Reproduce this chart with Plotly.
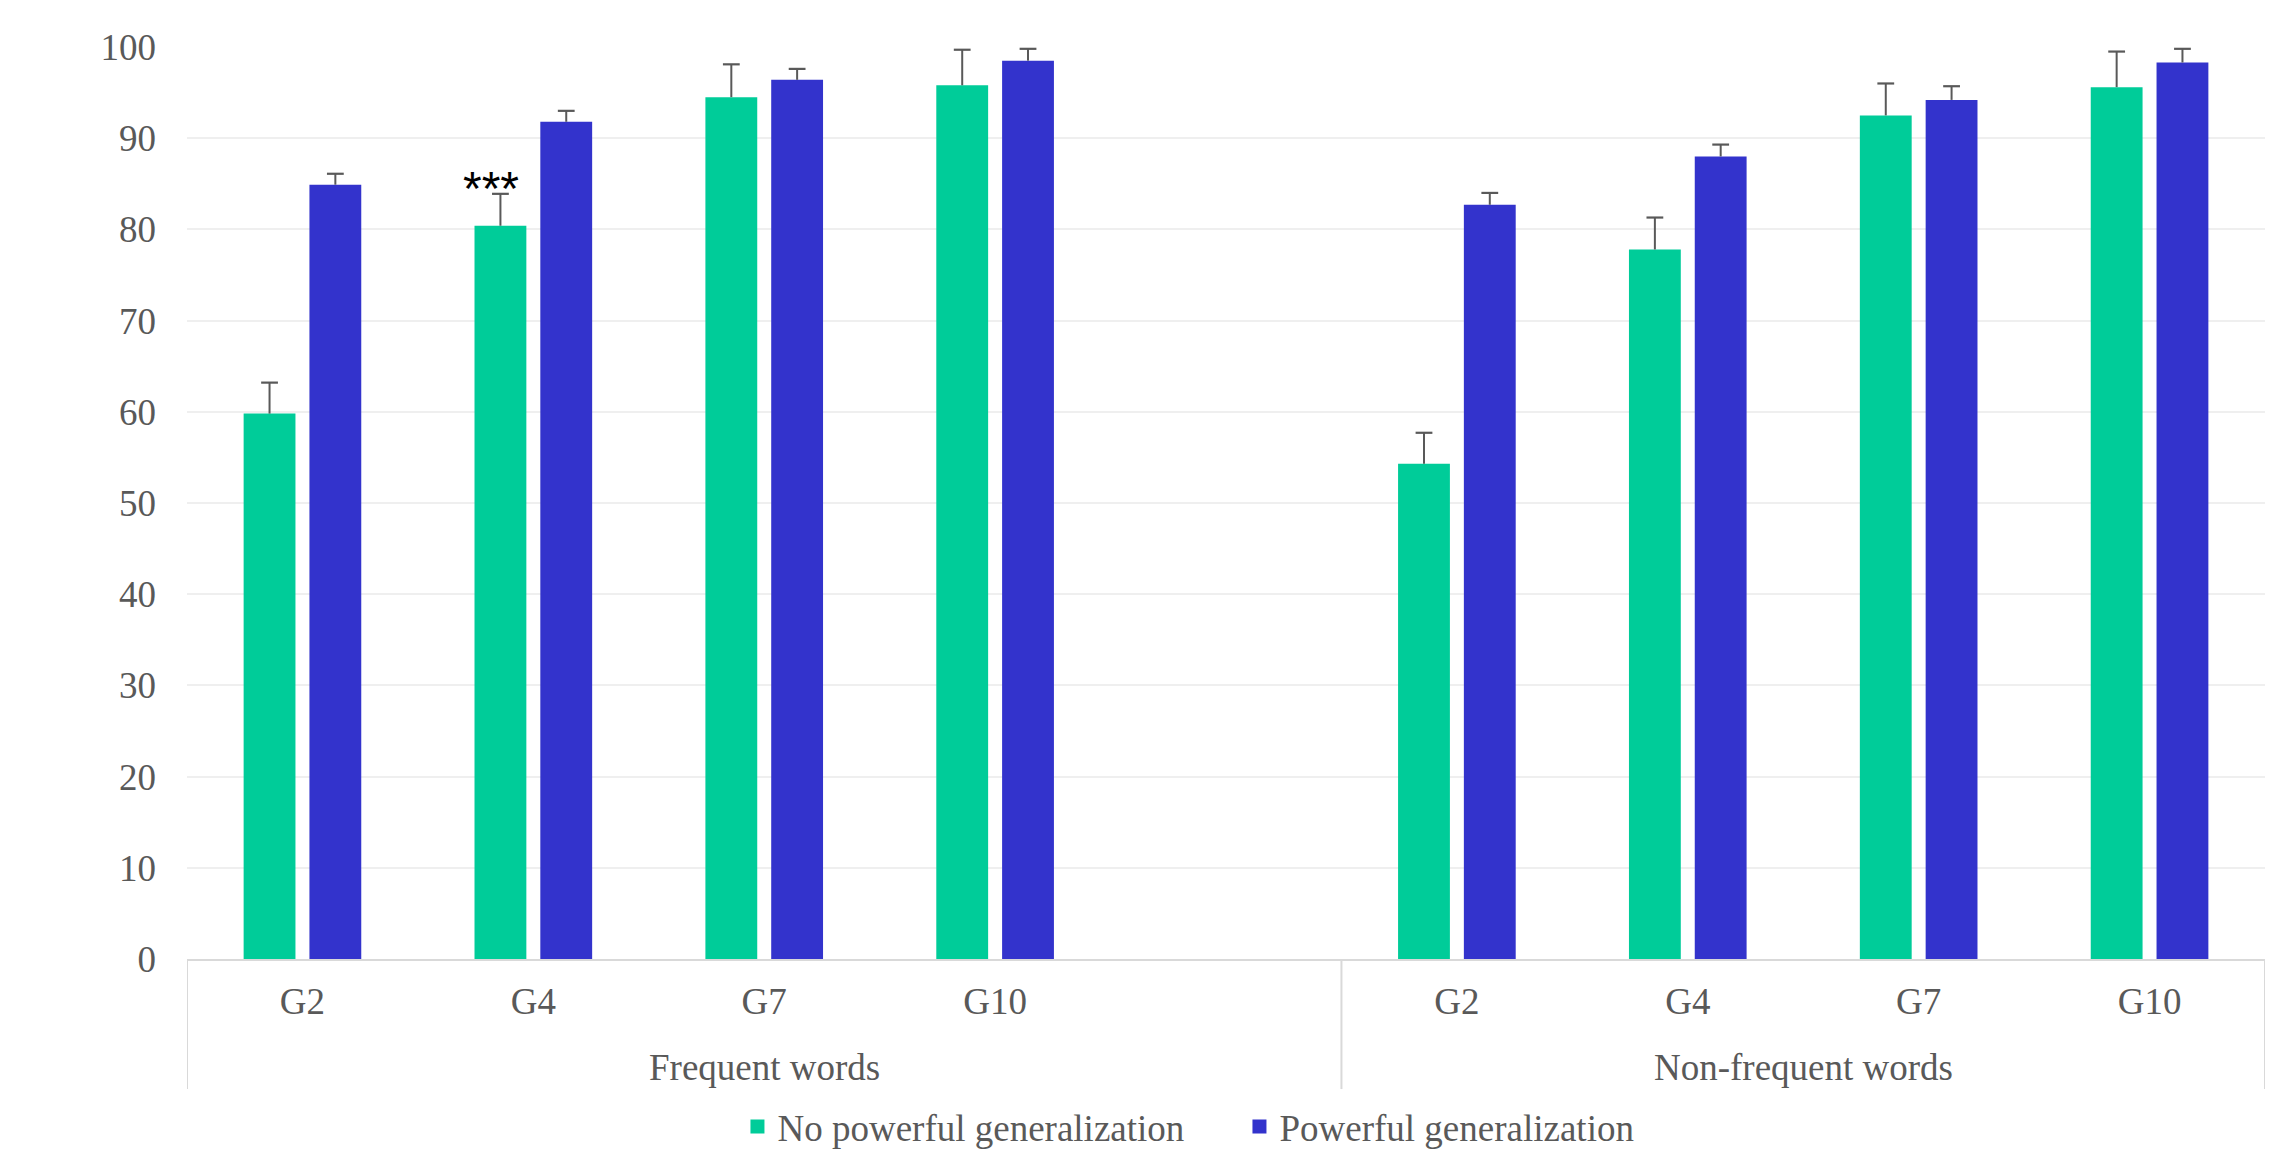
import plotly.graph_objects as go

# ---------------- data ----------------
groups = ["Frequent words", "Non-frequent words"]
grades = ["G2", "G4", "G7", "G10"]
series_names = ["No powerful generalization", "Powerful generalization"]

freq_no = [59.8, 80.4, 94.5, 95.8]
freq_no_err_top = [63.2, 83.9, 98.1, 99.7]
freq_pow = [84.9, 91.8, 96.4, 98.5]
freq_pow_err_top = [86.1, 93.0, 97.6, 99.8]

nonfreq_no = [54.3, 77.8, 92.5, 95.6]
nonfreq_no_err_top = [57.7, 81.3, 96.0, 99.5]
nonfreq_pow = [82.7, 88.0, 94.2, 98.3]
nonfreq_pow_err_top = [84.0, 89.3, 95.7, 99.8]

y_ticks = [0, 10, 20, 30, 40, 50, 60, 70, 80, 90, 100]
significance_label = "***"

# ---------------- layout constants ----------------
GREEN = "#00CC99"
BLUE = "#3333CC"
TXT = "#595959"
FONT = "Liberation Serif"
BAR_W = 0.2245
PAIR_OFF = 0.1425
CAP_PX = 12

# category slots: frequent group has 5 slots (last one empty), non-frequent 4
freq_pos = [i for i in range(len(grades))]
nonfreq_pos = [len(grades) + 1 + i for i in range(len(grades))]
positions = freq_pos + nonfreq_pos
n_slots = len(grades) * 2 + 1

no_vals = freq_no + nonfreq_no
no_err = freq_no_err_top + nonfreq_no_err_top
pow_vals = freq_pow + nonfreq_pow
pow_err = freq_pow_err_top + nonfreq_pow_err_top

fig = go.Figure()

for name, vals, errs, color, sign in [
    (series_names[0], no_vals, no_err, GREEN, -1),
    (series_names[1], pow_vals, pow_err, BLUE, 1),
]:
    xs = [p + sign * PAIR_OFF for p in positions]
    fig.add_trace(go.Bar(
        x=xs, y=vals, width=BAR_W, name=name, legendgroup=name,
        showlegend=False,
        marker=dict(color=color, line=dict(width=0)),
        hoverinfo="skip",
    ))
    # legend entry (larger square swatch like the original)
    fig.add_trace(go.Bar(
        x=[None], y=[None], name=name, legendgroup=name, showlegend=True,
        marker=dict(color=color, line=dict(width=5, color=color)),
        hoverinfo="skip",
    ))

for vals, errs, sign in [(no_vals, no_err, -1), (pow_vals, pow_err, 1)]:
    xs = [p + sign * PAIR_OFF for p in positions]
    fig.add_trace(go.Scatter(
        x=xs, y=errs, mode="markers", showlegend=False, hoverinfo="skip",
        marker=dict(symbol="line-ew", size=CAP_PX,
                    line=dict(width=2.2, color=TXT), color=TXT),
        error_y=dict(type="data", symmetric=False,
                     array=[0] * len(errs),
                     arrayminus=[e - v for e, v in zip(errs, vals)],
                     width=0, thickness=2, color=TXT),
    ))

# significance marker above G4 (frequent) green bar
fig.add_annotation(
    x=freq_pos[1] - PAIR_OFF, y=freq_no_err_top[1], xref="x", yref="y",
    text=significance_label, showarrow=False, xshift=-9, yshift=5,
    font=dict(family="Liberation Sans", size=48, color="black"),
    yanchor="middle",
)

# group labels
group_centers = [(freq_pos[0] - 0.5 + len(grades) + 0.5) / 2,
                 (nonfreq_pos[0] - 0.5 + nonfreq_pos[-1] + 0.5) / 2]
for g, c in zip(groups, group_centers):
    fig.add_annotation(
        x=c, y=-0.1185, xref="x", yref="paper", text=g, showarrow=False,
        font=dict(family=FONT, size=37, color=TXT), yanchor="middle",
    )

# divider lines of the category axis
for xd in [-0.5, nonfreq_pos[0] - 0.5, n_slots - 0.5]:
    fig.add_shape(type="line", xref="x", yref="paper",
                  x0=xd, x1=xd, y0=0, y1=-0.1426,
                  line=dict(color="#D9D9D9", width=2))

fig.update_layout(
    width=2291, height=1168,
    margin=dict(l=187, r=26, t=47, b=209, autoexpand=False),
    plot_bgcolor="white", paper_bgcolor="white",
    barmode="overlay",
    showlegend=True,
    legend=dict(orientation="h", x=0.2649, xanchor="left",
                y=-0.1842, yanchor="middle",
                font=dict(family=FONT, size=37, color=TXT),
                bgcolor="rgba(0,0,0,0)", itemsizing="constant",
                entrywidth=457, entrywidthmode="pixels"),
    font=dict(family=FONT, size=37, color=TXT),
)

fig.update_xaxes(
    range=[-0.5, n_slots - 0.5],
    tickvals=positions, ticktext=grades + grades,
    showgrid=False, zeroline=False,
    showline=True, linecolor="#D9D9D9", linewidth=2,
    ticks="", ticklabelstandoff=9,
    tickfont=dict(family=FONT, size=37, color=TXT),
)
fig.update_yaxes(
    range=[0, 100], tickvals=y_ticks,
    showgrid=True, gridcolor="#EFEFEF", gridwidth=2,
    zeroline=False, showline=False, ticks="",
    ticklabelstandoff=30,
    tickfont=dict(family=FONT, size=37, color=TXT),
)

fig.write_html("out.html")
